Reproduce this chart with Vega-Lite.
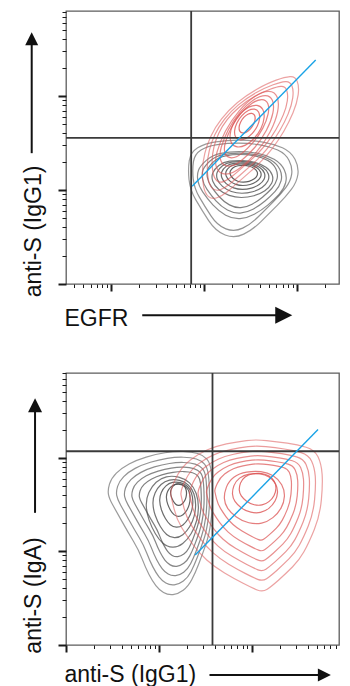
{
  "$schema": "https://vega.github.io/schema/vega-lite/v6.json",
  "padding": {"left": 21, "top": 9, "right": 4, "bottom": 2},
  "bounds": "flush",
  "spacing": 89,
  "config": {
    "font": "Liberation Sans",
    "view": {"stroke": "#5c5c5c", "strokeWidth": 1.3},
    "axis": {"grid": false, "domain": false, "labels": false, "tickColor": "#1a1a1a", "titleFont": "Liberation Sans", "titleFontSize": 23, "titleFontWeight": "normal", "titleColor": "#111111"}
  },
  "datasets": {
    "contours": [
      {"panel": "top", "pop": "gray", "level": 1, "form": "tgA", "X": 533, "Y": 285, "spread": 314},
      {"panel": "top", "pop": "gray", "level": 2, "form": "tgA", "X": 530, "Y": 290, "spread": 284},
      {"panel": "top", "pop": "gray", "level": 3, "form": "tgB", "X": 529, "Y": 297, "spread": 256},
      {"panel": "top", "pop": "gray", "level": 4, "form": "tgB", "X": 529, "Y": 303, "spread": 229},
      {"panel": "top", "pop": "gray", "level": 5, "form": "tgB", "X": 530, "Y": 309, "spread": 203},
      {"panel": "top", "pop": "gray", "level": 6, "form": "tgC", "X": 530, "Y": 314, "spread": 177},
      {"panel": "top", "pop": "gray", "level": 7, "form": "tgC", "X": 531, "Y": 319, "spread": 152},
      {"panel": "top", "pop": "gray", "level": 8, "form": "tgC", "X": 532, "Y": 323, "spread": 127},
      {"panel": "top", "pop": "gray", "level": 9, "form": "tgC", "X": 533, "Y": 327, "spread": 103},
      {"panel": "top", "pop": "gray", "level": 10, "form": "tgC", "X": 534, "Y": 330, "spread": 80},
      {"panel": "top", "pop": "red", "level": 1, "form": "trA", "X": 555, "Y": 438, "spread": 280},
      {"panel": "top", "pop": "red", "level": 2, "form": "trA", "X": 554, "Y": 443, "spread": 250},
      {"panel": "top", "pop": "red", "level": 3, "form": "trA", "X": 553, "Y": 448, "spread": 220},
      {"panel": "top", "pop": "red", "level": 4, "form": "trB", "X": 546, "Y": 457, "spread": 190},
      {"panel": "top", "pop": "red", "level": 5, "form": "trB", "X": 545, "Y": 462, "spread": 162},
      {"panel": "top", "pop": "red", "level": 6, "form": "trB", "X": 544, "Y": 468, "spread": 134},
      {"panel": "top", "pop": "red", "level": 7, "form": "trC", "X": 544, "Y": 473, "spread": 106},
      {"panel": "top", "pop": "red", "level": 8, "form": "trC", "X": 544, "Y": 478, "spread": 78},
      {"panel": "top", "pop": "red", "level": 9, "form": "trC", "X": 544, "Y": 482, "spread": 50},
      {"panel": "bottom", "pop": "gray", "level": 1, "form": "bgA", "X": 283, "Y": 366, "spread": 306},
      {"panel": "bottom", "pop": "gray", "level": 2, "form": "bgA", "X": 291, "Y": 372, "spread": 273},
      {"panel": "bottom", "pop": "gray", "level": 3, "form": "bgA", "X": 299, "Y": 378, "spread": 242},
      {"panel": "bottom", "pop": "gray", "level": 4, "form": "bgA", "X": 306, "Y": 385, "spread": 212},
      {"panel": "bottom", "pop": "gray", "level": 5, "form": "bgA", "X": 313, "Y": 393, "spread": 182},
      {"panel": "bottom", "pop": "gray", "level": 6, "form": "bgC", "X": 319, "Y": 401, "spread": 154},
      {"panel": "bottom", "pop": "gray", "level": 7, "form": "bgC", "X": 325, "Y": 410, "spread": 126},
      {"panel": "bottom", "pop": "gray", "level": 8, "form": "bgC", "X": 331, "Y": 422, "spread": 98},
      {"panel": "bottom", "pop": "gray", "level": 9, "form": "bgC", "X": 337, "Y": 435, "spread": 70},
      {"panel": "bottom", "pop": "gray", "level": 10, "form": "bgC", "X": 338, "Y": 452, "spread": 47},
      {"panel": "bottom", "pop": "red", "level": 1, "form": "brA", "X": 542, "Y": 388, "spread": 445},
      {"panel": "bottom", "pop": "red", "level": 2, "form": "brA", "X": 547, "Y": 395, "spread": 395},
      {"panel": "bottom", "pop": "red", "level": 3, "form": "brA", "X": 551, "Y": 402, "spread": 352},
      {"panel": "bottom", "pop": "red", "level": 4, "form": "brA", "X": 555, "Y": 410, "spread": 310},
      {"panel": "bottom", "pop": "red", "level": 5, "form": "brA", "X": 559, "Y": 419, "spread": 268},
      {"panel": "bottom", "pop": "red", "level": 6, "form": "brA", "X": 562, "Y": 429, "spread": 225},
      {"panel": "bottom", "pop": "red", "level": 7, "form": "brC", "X": 565, "Y": 442, "spread": 180},
      {"panel": "bottom", "pop": "red", "level": 8, "form": "brC", "X": 567, "Y": 455, "spread": 135},
      {"panel": "bottom", "pop": "red", "level": 9, "form": "brC", "X": 575, "Y": 467, "spread": 110}
    ],
    "lines": [
      {"panel": "top", "kind": "gate", "X": 376, "Y": 0, "X2": 376, "Y2": 818},
      {"panel": "top", "kind": "gate", "X": 0, "Y": 438, "X2": 820, "Y2": 438},
      {"panel": "top", "kind": "fit", "X": 379, "Y": 293, "X2": 750, "Y2": 671},
      {"panel": "bottom", "kind": "gate", "X": 440, "Y": 0, "X2": 440, "Y2": 817},
      {"panel": "bottom", "kind": "gate", "X": 0, "Y": 582, "X2": 820, "Y2": 582},
      {"panel": "bottom", "kind": "fit", "X": 388, "Y": 270, "X2": 757, "Y2": 647}
    ],
    "arrows": [
      {"panel": "top", "X": -103, "Y": 392, "X2": -103, "Y2": 720},
      {"panel": "top", "X": 229, "Y": -94, "X2": 632, "Y2": -94},
      {"panel": "bottom", "X": -93, "Y": 397, "X2": -93, "Y2": 702},
      {"panel": "bottom", "X": 431, "Y": -90, "X2": 760, "Y2": -90}
    ],
    "heads": [
      {"panel": "top", "dir": "up", "X": -103, "Y": 735},
      {"panel": "top", "dir": "right", "X": 654, "Y": -94},
      {"panel": "bottom", "dir": "up", "X": -93, "Y": 720},
      {"panel": "bottom", "dir": "right", "X": 776, "Y": -90}
    ]
  },
  "vconcat": [
    {
      "width": 273,
      "height": 273,
      "encoding": {
        "x": {"field": "X", "type": "quantitative", "scale": {"domain": [0, 820], "nice": false, "zero": false},
          "axis": {"values": [25, 52, 74, 93, 109, 123, 136, 220, 269, 304, 331, 353, 372, 388, 402, 415, 499, 548, 583, 610, 632, 651, 667, 681, 694, 778],
            "tickSize": {"condition": {"test": "datum.value == 136 || datum.value == 415 || datum.value == 694", "value": 7}, "value": 3.5},
            "tickWidth": {"condition": {"test": "datum.value == 136 || datum.value == 415 || datum.value == 694", "value": 2}, "value": 1},
            "title": "EGFR", "titleAlign": "left", "titleX": -2, "titleY": 41, "titleBaseline": "alphabetic", "titleAngle": 0}},
        "y": {"field": "Y", "type": "quantitative", "scale": {"domain": [0, 818], "nice": false, "zero": false},
          "axis": {"values": [0, 85, 135, 170, 197, 219, 238, 255, 269, 281, 366, 416, 451, 478, 500, 519, 536, 550, 563, 648, 698, 733, 760, 782, 801, 816],
            "tickSize": {"condition": {"test": "datum.value == 0 || datum.value == 281 || datum.value == 563", "value": 8}, "value": 4},
            "tickWidth": {"condition": {"test": "datum.value == 0 || datum.value == 281 || datum.value == 563", "value": 2}, "value": 1},
            "title": "anti-S (IgG1)", "titleAngle": -90, "titleAlign": "center", "titleBaseline": "alphabetic", "titleX": -26, "titleY": 220}}
      },
      "layer": [
        {
          "data": {"name": "contours"},
          "transform": [{"filter": "datum.panel == 'top'"}],
          "mark": {"type": "point", "filled": false, "strokeWidth": 1.2},
          "encoding": {
            "shape": {"field": "form", "type": "nominal", "legend": null, "scale": {
              "domain": ["tgA", "tgB", "tgC", "trA", "trB", "trC", "bgA", "bgC", "brA", "brC"],
              "range": [
                "M-1.035,-0.54Q-1.01,-0.7,-0.875,-0.785Q-0.74,-0.87,-0.53,-0.9Q-0.32,-0.93,-0.08,-0.93Q0.16,-0.93,0.37,-0.895Q0.58,-0.86,0.745,-0.785Q0.91,-0.71,0.985,-0.565Q1.06,-0.42,1.04,-0.275Q1.02,-0.13,0.915,0.01Q0.81,0.15,0.65,0.31Q0.49,0.47,0.335,0.625Q0.18,0.78,0.005,0.865Q-0.17,0.95,-0.35,0.88Q-0.53,0.81,-0.665,0.605Q-0.8,0.4,-0.91,0.21Q-1.02,0.02,-1.04,-0.18Q-1.06,-0.38,-1.035,-0.54Z",
                "M-1.02,-0.35Q-0.98,-0.45,-0.84,-0.575Q-0.7,-0.7,-0.5,-0.74Q-0.3,-0.78,-0.075,-0.78Q0.15,-0.78,0.365,-0.74Q0.58,-0.7,0.75,-0.6Q0.92,-0.5,0.99,-0.35Q1.06,-0.2,1.02,-0.05Q0.98,0.1,0.865,0.225Q0.75,0.35,0.6,0.475Q0.45,0.6,0.285,0.69Q0.12,0.78,-0.05,0.79Q-0.22,0.8,-0.385,0.71Q-0.55,0.62,-0.685,0.47Q-0.82,0.32,-0.92,0.17Q-1.02,0.02,-1.04,-0.115Q-1.06,-0.25,-1.02,-0.35Z",
                "M-1.005,-0.215Q-0.95,-0.35,-0.8,-0.465Q-0.65,-0.58,-0.435,-0.61Q-0.22,-0.64,0,-0.63Q0.22,-0.62,0.42,-0.57Q0.62,-0.52,0.785,-0.41Q0.95,-0.3,1.005,-0.15Q1.06,0,0.99,0.14Q0.92,0.28,0.76,0.39Q0.6,0.5,0.39,0.56Q0.18,0.62,-0.035,0.62Q-0.25,0.62,-0.45,0.55Q-0.65,0.48,-0.8,0.35Q-0.95,0.22,-1.005,0.07Q-1.06,-0.08,-1.005,-0.215Z",
                "M0.84,-1.31Q0.95,-1.32,0.995,-1.21Q1.04,-1.1,1.015,-0.92Q0.99,-0.74,0.905,-0.535Q0.82,-0.33,0.705,-0.135Q0.59,0.06,0.475,0.21Q0.36,0.36,0.24,0.485Q0.12,0.61,-0.005,0.72Q-0.13,0.83,-0.26,0.945Q-0.39,1.06,-0.505,1.155Q-0.62,1.25,-0.725,1.285Q-0.83,1.32,-0.905,1.26Q-0.98,1.2,-1.01,1.045Q-1.04,0.89,-1.035,0.705Q-1.03,0.52,-0.985,0.335Q-0.94,0.15,-0.855,-0.035Q-0.77,-0.22,-0.625,-0.405Q-0.48,-0.59,-0.29,-0.75Q-0.1,-0.91,0.13,-1.04Q0.36,-1.17,0.545,-1.235Q0.73,-1.3,0.84,-1.31Z",
                "M0.663,-1.265Q0.851,-1.261,0.926,-1.088Q1,-0.915,0.941,-0.62Q0.881,-0.324,0.703,0.015Q0.525,0.354,0.277,0.646Q0.029,0.938,-0.236,1.144Q-0.5,1.35,-0.7,1.345Q-0.9,1.34,-0.98,1.155Q-1.06,0.97,-0.971,0.647Q-0.881,0.324,-0.703,-0.015Q-0.525,-0.354,-0.277,-0.646Q-0.029,-0.938,0.223,-1.104Q0.474,-1.269,0.663,-1.265Z",
                "M0.562,-1.175Q0.772,-1.144,0.88,-0.96Q0.987,-0.776,0.962,-0.488Q0.937,-0.2,0.787,0.115Q0.636,0.429,0.401,0.687Q0.165,0.944,-0.093,1.075Q-0.351,1.206,-0.562,1.175Q-0.772,1.144,-0.88,0.96Q-0.987,0.776,-0.962,0.488Q-0.937,0.2,-0.787,-0.115Q-0.636,-0.429,-0.401,-0.687Q-0.165,-0.944,0.093,-1.075Q0.351,-1.206,0.562,-1.175Z",
                "M-1.015,-0.565Q-1.03,-0.65,-0.995,-0.765Q-0.96,-0.88,-0.86,-0.98Q-0.76,-1.08,-0.61,-1.16Q-0.46,-1.24,-0.275,-1.295Q-0.09,-1.35,0.095,-1.38Q0.28,-1.41,0.45,-1.405Q0.62,-1.4,0.735,-1.365Q0.85,-1.33,0.915,-1.255Q0.98,-1.18,1,-1.015Q1.02,-0.85,1.025,-0.58Q1.03,-0.31,0.995,-0.04Q0.96,0.23,0.89,0.43Q0.82,0.63,0.755,0.8Q0.69,0.97,0.62,1.105Q0.55,1.24,0.45,1.315Q0.35,1.39,0.25,1.4Q0.15,1.41,0.065,1.36Q-0.02,1.31,-0.085,1.225Q-0.15,1.14,-0.22,1.005Q-0.29,0.87,-0.355,0.7Q-0.42,0.53,-0.525,0.355Q-0.63,0.18,-0.745,-0.025Q-0.86,-0.23,-0.93,-0.355Q-1,-0.48,-1.015,-0.565Z",
                "M-0.225,-1.35Q0,-1.4,0.25,-1.34Q0.5,-1.28,0.675,-1.115Q0.85,-0.95,0.935,-0.7Q1.02,-0.45,1.02,-0.175Q1.02,0.1,0.95,0.36Q0.88,0.62,0.74,0.86Q0.6,1.1,0.41,1.25Q0.22,1.4,0.01,1.39Q-0.2,1.38,-0.36,1.24Q-0.52,1.1,-0.66,0.86Q-0.8,0.62,-0.9,0.335Q-1,0.05,-1.01,-0.225Q-1.02,-0.5,-0.91,-0.74Q-0.8,-0.98,-0.625,-1.14Q-0.45,-1.3,-0.225,-1.35Z",
                "M-1.02,-0.285Q-1.03,-0.34,-0.955,-0.5Q-0.88,-0.66,-0.76,-0.75Q-0.64,-0.84,-0.525,-0.89Q-0.41,-0.94,-0.27,-0.97Q-0.13,-1,0,-1.015Q0.13,-1.03,0.27,-1.015Q0.41,-1,0.55,-0.98Q0.69,-0.96,0.805,-0.925Q0.92,-0.89,0.965,-0.795Q1.01,-0.7,1.02,-0.565Q1.03,-0.43,1.01,-0.215Q0.99,0,0.915,0.185Q0.84,0.37,0.775,0.485Q0.71,0.6,0.62,0.69Q0.53,0.78,0.435,0.865Q0.34,0.95,0.28,0.99Q0.22,1.03,0.145,1Q0.07,0.97,-0.045,0.91Q-0.16,0.85,-0.295,0.77Q-0.43,0.69,-0.535,0.595Q-0.64,0.5,-0.72,0.39Q-0.8,0.28,-0.87,0.165Q-0.94,0.05,-0.975,-0.09Q-1.01,-0.23,-1.02,-0.285Z",
                "M-0.99,0.025Q-1,-0.15,-0.925,-0.35Q-0.85,-0.55,-0.675,-0.685Q-0.5,-0.82,-0.25,-0.86Q0,-0.9,0.225,-0.875Q0.45,-0.85,0.635,-0.735Q0.82,-0.62,0.92,-0.435Q1.02,-0.25,1.01,-0.05Q1,0.15,0.9,0.335Q0.8,0.52,0.625,0.66Q0.45,0.8,0.25,0.84Q0.05,0.88,-0.175,0.83Q-0.4,0.78,-0.59,0.64Q-0.78,0.5,-0.88,0.35Q-0.98,0.2,-0.99,0.025Z"
              ]}},
            "size": {"field": "spread", "type": "quantitative", "legend": null, "scale": {"type": "pow", "exponent": 2, "domain": [0, 450], "range": [0, 22500], "nice": false, "zero": true}},
            "stroke": {"field": "pop", "type": "nominal", "legend": null, "scale": {"domain": ["gray", "red"], "range": ["#4a4a4a", "#de5858"]}},
            "opacity": {"field": "level", "type": "quantitative", "legend": null, "scale": {"domain": [1, 10], "range": [0.55, 0.88]}}
          }
        },
        {
          "data": {"name": "lines"},
          "transform": [{"filter": "datum.panel == 'top' && datum.kind == 'gate'"}],
          "mark": {"type": "rule", "color": "#3a3a3a", "strokeWidth": 1.8},
          "encoding": {"x2": {"field": "X2"}, "y2": {"field": "Y2"}}
        },
        {
          "data": {"name": "lines"},
          "transform": [{"filter": "datum.panel == 'top' && datum.kind == 'fit'"}],
          "mark": {"type": "rule", "color": "#1aa3e6", "strokeWidth": 1.4},
          "encoding": {"x2": {"field": "X2"}, "y2": {"field": "Y2"}}
        },
        {
          "data": {"name": "arrows"},
          "transform": [{"filter": "datum.panel == 'top'"}],
          "mark": {"type": "rule", "color": "#111111", "strokeWidth": 2, "clip": false},
          "encoding": {"x2": {"field": "X2"}, "y2": {"field": "Y2"}}
        },
        {
          "data": {"name": "heads"},
          "transform": [{"filter": "datum.panel == 'top' && datum.dir == 'up'"}],
          "mark": {"type": "point", "shape": "M-1,1L0,-1L1,1Z", "size": 169, "filled": true, "color": "#111111", "opacity": 1, "clip": false}
        },
        {
          "data": {"name": "heads"},
          "transform": [{"filter": "datum.panel == 'top' && datum.dir == 'right'"}],
          "mark": {"type": "point", "shape": "M-1,-1L1,0L-1,1Z", "size": 289, "filled": true, "color": "#111111", "opacity": 1, "clip": false}
        }
      ]
    },
    {
      "width": 273,
      "height": 272,
      "encoding": {
        "x": {"field": "X", "type": "quantitative", "scale": {"domain": [0, 820], "nice": false, "zero": false},
          "axis": {"values": [0, 84, 133, 168, 195, 217, 236, 252, 266, 279, 363, 412, 447, 474, 496, 515, 531, 545, 558, 642, 691, 726, 753, 775, 794, 810],
            "tickSize": {"condition": {"test": "datum.value == 0 || datum.value == 279 || datum.value == 558", "value": 7}, "value": 3.5},
            "tickWidth": {"condition": {"test": "datum.value == 0 || datum.value == 279 || datum.value == 558", "value": 2}, "value": 1},
            "title": "anti-S (IgG1)", "titleAlign": "left", "titleX": -2, "titleY": 36, "titleBaseline": "alphabetic", "titleAngle": 0}},
        "y": {"field": "Y", "type": "quantitative", "scale": {"domain": [0, 817], "nice": false, "zero": false},
          "axis": {"values": [0, 85, 135, 170, 197, 219, 238, 255, 269, 281, 366, 416, 451, 478, 500, 519, 536, 550, 562, 647, 697, 732, 759, 781, 800, 816],
            "tickSize": {"condition": {"test": "datum.value == 0 || datum.value == 281 || datum.value == 562", "value": 8}, "value": 4},
            "tickWidth": {"condition": {"test": "datum.value == 0 || datum.value == 281 || datum.value == 562", "value": 2}, "value": 1},
            "title": "anti-S (IgA)", "titleAngle": -90, "titleAlign": "center", "titleBaseline": "alphabetic", "titleX": -26, "titleY": 222}}
      },
      "layer": [
        {
          "data": {"name": "contours"},
          "transform": [{"filter": "datum.panel == 'bottom'"}],
          "mark": {"type": "point", "filled": false, "strokeWidth": 1.2},
          "encoding": {
            "shape": {"field": "form", "type": "nominal", "legend": null, "scale": {
              "domain": ["tgA", "tgB", "tgC", "trA", "trB", "trC", "bgA", "bgC", "brA", "brC"],
              "range": [
                "M-1.035,-0.54Q-1.01,-0.7,-0.875,-0.785Q-0.74,-0.87,-0.53,-0.9Q-0.32,-0.93,-0.08,-0.93Q0.16,-0.93,0.37,-0.895Q0.58,-0.86,0.745,-0.785Q0.91,-0.71,0.985,-0.565Q1.06,-0.42,1.04,-0.275Q1.02,-0.13,0.915,0.01Q0.81,0.15,0.65,0.31Q0.49,0.47,0.335,0.625Q0.18,0.78,0.005,0.865Q-0.17,0.95,-0.35,0.88Q-0.53,0.81,-0.665,0.605Q-0.8,0.4,-0.91,0.21Q-1.02,0.02,-1.04,-0.18Q-1.06,-0.38,-1.035,-0.54Z",
                "M-1.02,-0.35Q-0.98,-0.45,-0.84,-0.575Q-0.7,-0.7,-0.5,-0.74Q-0.3,-0.78,-0.075,-0.78Q0.15,-0.78,0.365,-0.74Q0.58,-0.7,0.75,-0.6Q0.92,-0.5,0.99,-0.35Q1.06,-0.2,1.02,-0.05Q0.98,0.1,0.865,0.225Q0.75,0.35,0.6,0.475Q0.45,0.6,0.285,0.69Q0.12,0.78,-0.05,0.79Q-0.22,0.8,-0.385,0.71Q-0.55,0.62,-0.685,0.47Q-0.82,0.32,-0.92,0.17Q-1.02,0.02,-1.04,-0.115Q-1.06,-0.25,-1.02,-0.35Z",
                "M-1.005,-0.215Q-0.95,-0.35,-0.8,-0.465Q-0.65,-0.58,-0.435,-0.61Q-0.22,-0.64,0,-0.63Q0.22,-0.62,0.42,-0.57Q0.62,-0.52,0.785,-0.41Q0.95,-0.3,1.005,-0.15Q1.06,0,0.99,0.14Q0.92,0.28,0.76,0.39Q0.6,0.5,0.39,0.56Q0.18,0.62,-0.035,0.62Q-0.25,0.62,-0.45,0.55Q-0.65,0.48,-0.8,0.35Q-0.95,0.22,-1.005,0.07Q-1.06,-0.08,-1.005,-0.215Z",
                "M0.84,-1.31Q0.95,-1.32,0.995,-1.21Q1.04,-1.1,1.015,-0.92Q0.99,-0.74,0.905,-0.535Q0.82,-0.33,0.705,-0.135Q0.59,0.06,0.475,0.21Q0.36,0.36,0.24,0.485Q0.12,0.61,-0.005,0.72Q-0.13,0.83,-0.26,0.945Q-0.39,1.06,-0.505,1.155Q-0.62,1.25,-0.725,1.285Q-0.83,1.32,-0.905,1.26Q-0.98,1.2,-1.01,1.045Q-1.04,0.89,-1.035,0.705Q-1.03,0.52,-0.985,0.335Q-0.94,0.15,-0.855,-0.035Q-0.77,-0.22,-0.625,-0.405Q-0.48,-0.59,-0.29,-0.75Q-0.1,-0.91,0.13,-1.04Q0.36,-1.17,0.545,-1.235Q0.73,-1.3,0.84,-1.31Z",
                "M0.663,-1.265Q0.851,-1.261,0.926,-1.088Q1,-0.915,0.941,-0.62Q0.881,-0.324,0.703,0.015Q0.525,0.354,0.277,0.646Q0.029,0.938,-0.236,1.144Q-0.5,1.35,-0.7,1.345Q-0.9,1.34,-0.98,1.155Q-1.06,0.97,-0.971,0.647Q-0.881,0.324,-0.703,-0.015Q-0.525,-0.354,-0.277,-0.646Q-0.029,-0.938,0.223,-1.104Q0.474,-1.269,0.663,-1.265Z",
                "M0.562,-1.175Q0.772,-1.144,0.88,-0.96Q0.987,-0.776,0.962,-0.488Q0.937,-0.2,0.787,0.115Q0.636,0.429,0.401,0.687Q0.165,0.944,-0.093,1.075Q-0.351,1.206,-0.562,1.175Q-0.772,1.144,-0.88,0.96Q-0.987,0.776,-0.962,0.488Q-0.937,0.2,-0.787,-0.115Q-0.636,-0.429,-0.401,-0.687Q-0.165,-0.944,0.093,-1.075Q0.351,-1.206,0.562,-1.175Z",
                "M-1.015,-0.565Q-1.03,-0.65,-0.995,-0.765Q-0.96,-0.88,-0.86,-0.98Q-0.76,-1.08,-0.61,-1.16Q-0.46,-1.24,-0.275,-1.295Q-0.09,-1.35,0.095,-1.38Q0.28,-1.41,0.45,-1.405Q0.62,-1.4,0.735,-1.365Q0.85,-1.33,0.915,-1.255Q0.98,-1.18,1,-1.015Q1.02,-0.85,1.025,-0.58Q1.03,-0.31,0.995,-0.04Q0.96,0.23,0.89,0.43Q0.82,0.63,0.755,0.8Q0.69,0.97,0.62,1.105Q0.55,1.24,0.45,1.315Q0.35,1.39,0.25,1.4Q0.15,1.41,0.065,1.36Q-0.02,1.31,-0.085,1.225Q-0.15,1.14,-0.22,1.005Q-0.29,0.87,-0.355,0.7Q-0.42,0.53,-0.525,0.355Q-0.63,0.18,-0.745,-0.025Q-0.86,-0.23,-0.93,-0.355Q-1,-0.48,-1.015,-0.565Z",
                "M-0.225,-1.35Q0,-1.4,0.25,-1.34Q0.5,-1.28,0.675,-1.115Q0.85,-0.95,0.935,-0.7Q1.02,-0.45,1.02,-0.175Q1.02,0.1,0.95,0.36Q0.88,0.62,0.74,0.86Q0.6,1.1,0.41,1.25Q0.22,1.4,0.01,1.39Q-0.2,1.38,-0.36,1.24Q-0.52,1.1,-0.66,0.86Q-0.8,0.62,-0.9,0.335Q-1,0.05,-1.01,-0.225Q-1.02,-0.5,-0.91,-0.74Q-0.8,-0.98,-0.625,-1.14Q-0.45,-1.3,-0.225,-1.35Z",
                "M-1.02,-0.285Q-1.03,-0.34,-0.955,-0.5Q-0.88,-0.66,-0.76,-0.75Q-0.64,-0.84,-0.525,-0.89Q-0.41,-0.94,-0.27,-0.97Q-0.13,-1,0,-1.015Q0.13,-1.03,0.27,-1.015Q0.41,-1,0.55,-0.98Q0.69,-0.96,0.805,-0.925Q0.92,-0.89,0.965,-0.795Q1.01,-0.7,1.02,-0.565Q1.03,-0.43,1.01,-0.215Q0.99,0,0.915,0.185Q0.84,0.37,0.775,0.485Q0.71,0.6,0.62,0.69Q0.53,0.78,0.435,0.865Q0.34,0.95,0.28,0.99Q0.22,1.03,0.145,1Q0.07,0.97,-0.045,0.91Q-0.16,0.85,-0.295,0.77Q-0.43,0.69,-0.535,0.595Q-0.64,0.5,-0.72,0.39Q-0.8,0.28,-0.87,0.165Q-0.94,0.05,-0.975,-0.09Q-1.01,-0.23,-1.02,-0.285Z",
                "M-0.99,0.025Q-1,-0.15,-0.925,-0.35Q-0.85,-0.55,-0.675,-0.685Q-0.5,-0.82,-0.25,-0.86Q0,-0.9,0.225,-0.875Q0.45,-0.85,0.635,-0.735Q0.82,-0.62,0.92,-0.435Q1.02,-0.25,1.01,-0.05Q1,0.15,0.9,0.335Q0.8,0.52,0.625,0.66Q0.45,0.8,0.25,0.84Q0.05,0.88,-0.175,0.83Q-0.4,0.78,-0.59,0.64Q-0.78,0.5,-0.88,0.35Q-0.98,0.2,-0.99,0.025Z"
              ]}},
            "size": {"field": "spread", "type": "quantitative", "legend": null, "scale": {"type": "pow", "exponent": 2, "domain": [0, 450], "range": [0, 22500], "nice": false, "zero": true}},
            "stroke": {"field": "pop", "type": "nominal", "legend": null, "scale": {"domain": ["gray", "red"], "range": ["#4a4a4a", "#de5858"]}},
            "opacity": {"field": "level", "type": "quantitative", "legend": null, "scale": {"domain": [1, 10], "range": [0.55, 0.88]}}
          }
        },
        {
          "data": {"name": "lines"},
          "transform": [{"filter": "datum.panel == 'bottom' && datum.kind == 'gate'"}],
          "mark": {"type": "rule", "color": "#3a3a3a", "strokeWidth": 1.8},
          "encoding": {"x2": {"field": "X2"}, "y2": {"field": "Y2"}}
        },
        {
          "data": {"name": "lines"},
          "transform": [{"filter": "datum.panel == 'bottom' && datum.kind == 'fit'"}],
          "mark": {"type": "rule", "color": "#1aa3e6", "strokeWidth": 1.4},
          "encoding": {"x2": {"field": "X2"}, "y2": {"field": "Y2"}}
        },
        {
          "data": {"name": "arrows"},
          "transform": [{"filter": "datum.panel == 'bottom'"}],
          "mark": {"type": "rule", "color": "#111111", "strokeWidth": 2, "clip": false},
          "encoding": {"x2": {"field": "X2"}, "y2": {"field": "Y2"}}
        },
        {
          "data": {"name": "heads"},
          "transform": [{"filter": "datum.panel == 'bottom' && datum.dir == 'up'"}],
          "mark": {"type": "point", "shape": "M-1,1L0,-1L1,1Z", "size": 196, "filled": true, "color": "#111111", "opacity": 1, "clip": false}
        },
        {
          "data": {"name": "heads"},
          "transform": [{"filter": "datum.panel == 'bottom' && datum.dir == 'right'"}],
          "mark": {"type": "point", "shape": "M-1,-1L1,0L-1,1Z", "size": 169, "filled": true, "color": "#111111", "opacity": 1, "clip": false}
        }
      ]
    }
  ]
}
